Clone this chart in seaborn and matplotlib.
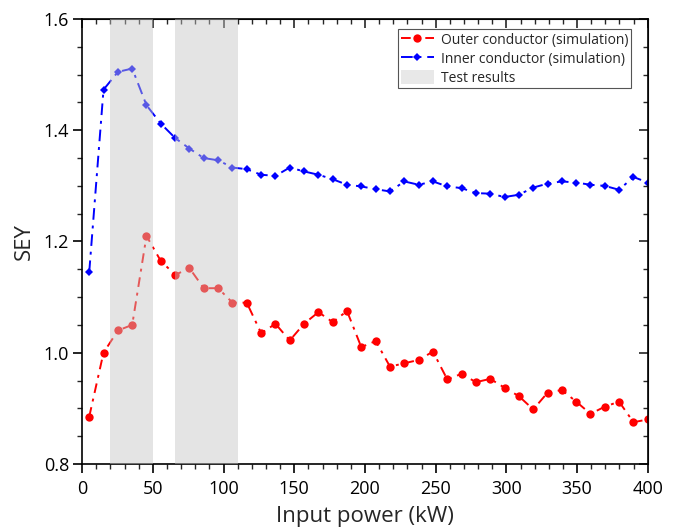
import matplotlib
matplotlib.use("Agg")
import matplotlib.pyplot as plt
from matplotlib.ticker import MultipleLocator
from matplotlib.patches import Patch
from matplotlib.lines import Line2D
import seaborn as sns
import pandas as pd

# ---- data ----
power_kw = [5.0, 15.1, 25.3, 35.4, 45.5, 55.6, 65.8, 75.9, 86.0, 96.2,
            106.3, 116.4, 126.6, 136.7, 146.8, 156.9, 167.1, 177.2, 187.3, 197.4,
            207.6, 217.7, 227.8, 238.0, 248.1, 258.2, 268.3, 278.5, 288.6, 298.7,
            308.8, 319.0, 329.1, 339.2, 349.4, 359.5, 369.6, 379.7, 389.9, 400.0]
outer_sey = [0.885, 1.000, 1.040, 1.050, 1.210, 1.165, 1.140, 1.152, 1.116, 1.116,
             1.090, 1.090, 1.035, 1.052, 1.022, 1.052, 1.073, 1.055, 1.075, 1.010,
             1.021, 0.975, 0.981, 0.987, 1.002, 0.952, 0.962, 0.947, 0.953, 0.937,
             0.922, 0.898, 0.928, 0.933, 0.912, 0.890, 0.903, 0.912, 0.875, 0.880]
inner_sey = [1.145, 1.473, 1.505, 1.511, 1.445, 1.412, 1.386, 1.367, 1.350, 1.346,
             1.333, 1.330, 1.320, 1.318, 1.333, 1.326, 1.320, 1.312, 1.302, 1.299,
             1.294, 1.290, 1.308, 1.302, 1.308, 1.299, 1.296, 1.287, 1.286, 1.280,
             1.284, 1.297, 1.304, 1.308, 1.306, 1.302, 1.300, 1.293, 1.316, 1.306]
test_ranges = [(20, 50), (66, 110)]
series_labels = ["Outer conductor (simulation)", "Inner conductor (simulation)", "Test results"]

df = pd.DataFrame({"power": power_kw, "outer": outer_sey, "inner": inner_sey})

sns.set_style("ticks")
plt.rcParams["font.family"] = ["Open Sans", "DejaVu Sans"]

fig = plt.figure(figsize=(6.79, 5.29), dpi=100)
ax = fig.add_axes([0.121, 0.123, 0.833, 0.841])

red_ls = (0, (5, 3, 1.5, 3))
blue_ls = (0, (6, 3, 1.5, 3))

sns.lineplot(data=df, x="power", y="outer", ax=ax, color="#ff0000",
             linestyle=red_ls, linewidth=1.4, marker="o",
             markersize=6, markeredgewidth=0, sort=False, errorbar=None)
sns.lineplot(data=df, x="power", y="inner", ax=ax, color="#0000ff",
             linestyle=blue_ls, linewidth=1.4, marker="D",
             markersize=4.5, markeredgewidth=0, sort=False, errorbar=None)

for lo, hi in test_ranges:
    ax.axvspan(lo, hi, color="#c4c4c4", alpha=0.45, lw=0, zorder=5)

ax.set_xlim(0, 400)
ax.set_ylim(0.8, 1.6)
ax.xaxis.set_major_locator(MultipleLocator(50))
ax.xaxis.set_minor_locator(MultipleLocator(10))
ax.yaxis.set_major_locator(MultipleLocator(0.2))
ax.yaxis.set_minor_locator(MultipleLocator(0.05))
ax.yaxis.set_major_formatter(matplotlib.ticker.FormatStrFormatter("%.1f"))
ax.tick_params(axis="both", which="major", direction="out", length=6.5, width=1.2,
               labelsize=13, colors="black")
ax.tick_params(axis="x", which="major", pad=5)
ax.tick_params(axis="y", which="major", pad=3)
ax.tick_params(axis="both", which="minor", direction="out", length=3.5, width=1.0)

for s in ax.spines.values():
    s.set_linewidth(1.2)
    s.set_color("black")
    s.set_visible(True)

# mirrored inward ticks on top and right
top = ax.secondary_xaxis("top")
top.xaxis.set_major_locator(MultipleLocator(50))
top.xaxis.set_minor_locator(MultipleLocator(10))
top.tick_params(which="major", direction="in", length=6.5, width=1.2, labeltop=False)
top.tick_params(which="minor", direction="in", length=3.5, width=1.0)
right = ax.secondary_yaxis("right")
right.yaxis.set_major_locator(MultipleLocator(0.2))
right.yaxis.set_minor_locator(MultipleLocator(0.05))
right.tick_params(which="major", direction="in", length=6.5, width=1.2, labelright=False)
right.tick_params(which="minor", direction="in", length=3.5, width=1.0)

ax.set_xlabel("Input power (kW)", fontsize=16, labelpad=6)
ax.set_ylabel("SEY", fontsize=16, labelpad=6)

handles = [
    Line2D([], [], color="#ff0000", linestyle=red_ls, linewidth=1.4,
           marker="o", markersize=6, markeredgewidth=0),
    Line2D([], [], color="#0000ff", linestyle=blue_ls, linewidth=1.4,
           marker="D", markersize=4.5, markeredgewidth=0),
    Patch(facecolor="#e8e8e8", edgecolor="none"),
]
leg = ax.legend(handles, series_labels, loc="upper right", fontsize=10,
                frameon=True, fancybox=False, edgecolor="#555555", framealpha=1,
                borderpad=0.2, handlelength=2.4, handleheight=1.2,
                handletextpad=0.5, labelspacing=0.22, borderaxespad=0,
                bbox_to_anchor=(0.971, 0.977))
leg.get_frame().set_linewidth(0.8)
leg.set_zorder(10)

fig.savefig("out.png", dpi=100)
